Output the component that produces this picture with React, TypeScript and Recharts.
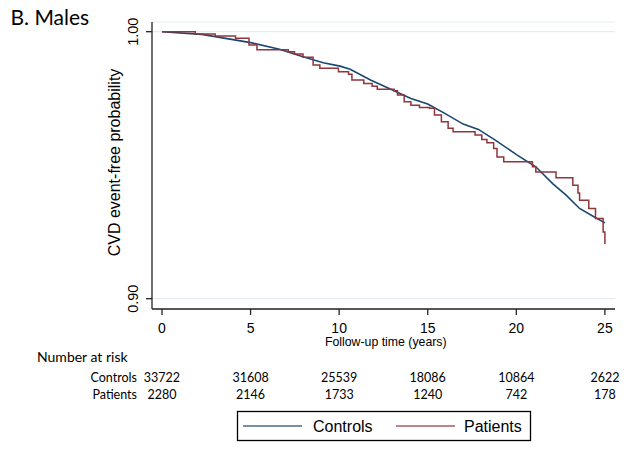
import React from "react";
import { LineChart, Line, XAxis, YAxis, CartesianGrid } from "recharts";

// Kaplan-Meier curves
const controlsTime = [0, 2.25, 5.01, 6.63, 7.96, 9.1, 10.05, 10.62, 11.77, 13.1, 14.05, 15.0, 15.96, 17.0, 17.86, 18.81, 20.05, 21.1, 22.05, 22.81, 23.57, 24.33, 25.0];
const controlsSurv = [1.0, 0.999, 0.9959, 0.9934, 0.9906, 0.9884, 0.9871, 0.9859, 0.9819, 0.9779, 0.975, 0.9729, 0.9694, 0.9654, 0.9634, 0.9594, 0.9538, 0.9494, 0.9431, 0.9388, 0.9338, 0.9309, 0.9284];

const patientsTime = [0, 1.88, 3.0, 4.15, 4.91, 5.36, 7.13, 7.48, 7.96, 8.53, 8.91, 9.96, 10.53, 10.72, 11.39, 11.86, 12.15, 13.1, 13.29, 13.67, 14.05, 14.53, 15.1, 15.38, 15.77, 16.15, 16.43, 17.67, 18.05, 18.34, 18.72, 18.91, 19.29, 20.91, 21.1, 22.24, 23.19, 23.48, 23.57, 24.09, 24.47, 24.9, 25.0];
const patientsSurv = [1.0, 0.9991, 0.9984, 0.9975, 0.995, 0.9932, 0.9925, 0.9916, 0.9904, 0.9875, 0.9863, 0.985, 0.9841, 0.9819, 0.9806, 0.9796, 0.9784, 0.9779, 0.9763, 0.9738, 0.9725, 0.9716, 0.9713, 0.9688, 0.9663, 0.9638, 0.9625, 0.9613, 0.9596, 0.9584, 0.9563, 0.9531, 0.9513, 0.9494, 0.9475, 0.9453, 0.9425, 0.9396, 0.9369, 0.9338, 0.93, 0.925, 0.9205];

const xTicks = [0, 5, 10, 15, 20, 25];
const yTicks = [0.9, 1.0];
const controlsAtRisk = [33722, 31608, 25539, 18086, 10864, 2622];
const patientsAtRisk = [2280, 2146, 1733, 1240, 742, 178];

const controlsData = controlsTime.map((t, i) => ({ t, s: controlsSurv[i] }));
const patientsData = patientsTime.map((t, i) => ({ t, s: patientsSurv[i] }));

const BLUE = "#1a476f";
const RED = "#90353b";
const AXIS = "#222";
const ARIAL = "'Liberation Sans', Arial, sans-serif";
const CAL = "Lato, 'Open Sans', sans-serif";

const XTick = (props: any) => {
  const { x, y, payload } = props;
  const i = xTicks.indexOf(payload.value);
  return (
    <g>
      <text x={x} y={y + 18.3} textAnchor="middle" fontSize={14} fontFamily={ARIAL} fill="#000">
        {payload.value}
      </text>
      <text x={x} y={y + 66.5} textAnchor="middle" fontSize={12.5} fontFamily={CAL} fill="#000">
        {controlsAtRisk[i]}
      </text>
      <text x={x} y={y + 83.5} textAnchor="middle" fontSize={12.5} fontFamily={CAL} fill="#000">
        {patientsAtRisk[i]}
      </text>
    </g>
  );
};

const YTick = (props: any) => {
  const { x, y, payload } = props;
  return (
    <text
      transform={`translate(${x - 8},${y}) rotate(-90)`}
      textAnchor="middle"
      fontSize={14.5}
      fontFamily={ARIAL}
      fill="#000"
    >
      {payload.value.toFixed(2)}
    </text>
  );
};

export default function App() {
  return (
    <div style={{ position: "absolute", left: 0, top: 0, width: 630, height: 458, background: "#fff" }}>
      <LineChart width={630} height={458} margin={{ top: 22, right: 15, bottom: 109, left: 100 }}>
        <CartesianGrid horizontal vertical={false} stroke="#e4eef0" strokeWidth={1.2} />
        <XAxis
          type="number"
          dataKey="t"
          domain={[-0.564, 25.57]}
          ticks={xTicks}
          interval={0}
          allowDataOverflow
          tickSize={6}
          tickMargin={0}
          height={40}
          stroke={AXIS}
          strokeWidth={1.3}
          tick={<XTick />}
        />
        <YAxis
          type="number"
          domain={[0.89615, 1.00363]}
          ticks={yTicks}
          interval={0}
          allowDataOverflow
          tickSize={6}
          tickMargin={0}
          width={52}
          stroke={AXIS}
          strokeWidth={1.3}
          tick={<YTick />}
        />
        <Line
          data={controlsData}
          dataKey="s"
          type="linear"
          stroke={BLUE}
          strokeWidth={1.6}
          dot={false}
          isAnimationActive={false}
        />
        <Line
          data={patientsData}
          dataKey="s"
          type="stepAfter"
          stroke={RED}
          strokeWidth={1.5}
          dot={false}
          isAnimationActive={false}
        />
      </LineChart>
      <svg width={630} height={458} style={{ position: "absolute", left: 0, top: 0, pointerEvents: "none" }}>
        <text x={10.5} y={25} fontSize={21} fontFamily={CAL} fill="#000">
          B. Males
        </text>
        <text
          transform="translate(119.5,162.5) rotate(-90)"
          textAnchor="middle"
          fontSize={16}
          fontFamily={ARIAL}
          fill="#000"
        >
          CVD event-free probability
        </text>
        <text x={385.8} y={345.5} textAnchor="middle" fontSize={12.3} fontFamily={ARIAL} fill="#000">
          Follow-up time (years)
        </text>
        <text x={37} y={361.7} fontSize={14} fontFamily={CAL} fill="#000">
          Number at risk
        </text>
        <text x={137} y={381.5} textAnchor="end" fontSize={12.5} fontFamily={CAL} fill="#000">
          Controls
        </text>
        <text x={137} y={398.5} textAnchor="end" fontSize={12.5} fontFamily={CAL} fill="#000">
          Patients
        </text>
        <rect x={237.5} y={411.5} width={293} height={29} fill="#fff" stroke="#000" strokeWidth={1.3} />
        <line x1={243} x2={302} y1={426} y2={426} stroke={BLUE} strokeWidth={1.6} strokeOpacity={0.8} />
        <text x={313} y={431.7} fontSize={16} fontFamily={ARIAL} fill="#000">
          Controls
        </text>
        <line x1={396} x2={455} y1={426} y2={426} stroke={RED} strokeWidth={1.6} strokeOpacity={0.8} />
        <text x={464} y={431.7} fontSize={16} fontFamily={ARIAL} fill="#000">
          Patients
        </text>
      </svg>
    </div>
  );
}
